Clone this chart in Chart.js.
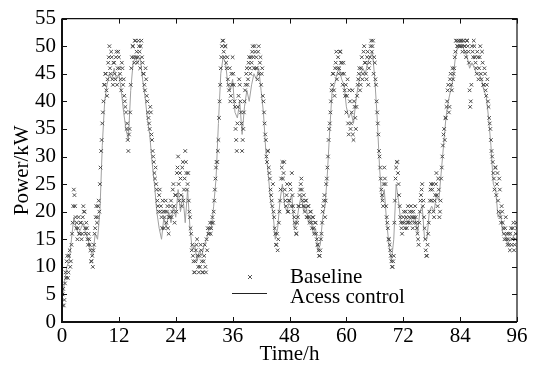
<!DOCTYPE html>
<html>
<head>
<meta charset="utf-8">
<script src="https://cdn.jsdelivr.net/npm/chart.js@4/dist/chart.umd.min.js"></script>
<style>
  html, body { margin: 0; padding: 0; background: #fff; }
  #wrap { width: 540px; height: 367px; }
</style>
</head>
<body>
<div id="wrap"><canvas id="myChart" width="540" height="367"></canvas></div>
<script>
// axis ticks
var hourTicks = [0, 12, 24, 36, 48, 60, 72, 84, 96];
var powerTicks = [0, 5, 10, 15, 20, 25, 30, 35, 40, 45, 50, 55];

// Baseline, samples on the quarter hour (kW), day by day
var baselineDay1 = [
  3, 6, 4, 9,  11, 8, 12, 10,  14, 18, 24, 21,  17, 15, 19, 16,
  18, 16, 21, 20,  16, 17, 14, 15,  13, 11, 10, 14,  17, 21, 19, 22,
  25, 31, 36, 40,  43, 45, 41, 47,  50, 45, 48, 43,  47, 44, 49, 46,
  48, 45, 42, 46,  44, 40, 38, 36,  31, 35, 43, 48,  50, 47, 51, 49,
  48, 50, 46, 51,  47, 45, 42, 44,  40, 37, 35, 38,  33, 30, 27, 28,
  24, 21, 23, 20,  19, 22, 17, 20,  18, 21, 16, 19,  22, 20, 25, 18
];
var baselineDay2 = [
  23, 27, 30, 22,  26, 21, 29, 24,  31, 27, 25, 22,  19, 16, 14, 11,
  9, 13, 15, 10,  12, 14, 11, 9,  12, 10, 15, 17,  16, 18, 17, 19,
  20, 24, 28, 29,  33, 40, 46, 50,  51, 48, 50, 46,  44, 42, 40, 45,
  48, 43, 39, 33,  36, 41, 43, 38,  31, 35, 40, 43,  46, 44, 48, 45,
  47, 50, 46, 49,  48, 44, 50, 47,  43, 46, 40, 36,  33, 29, 31, 27,
  24, 22, 25, 19,  16, 14, 13, 18,  22, 26, 29, 27,  24, 21, 25, 20
];
var baselineDay3 = [
  22, 24, 27, 21,  19, 17, 16, 19,  21, 24, 26, 22,  23, 20, 22, 19,
  21, 18, 20, 17,  19, 16, 18, 15,  14, 12, 13, 16,  20, 22, 19, 25,
  28, 33, 36, 40,  43, 45, 41, 47,  44, 48, 46, 49,  47, 43, 45, 41,
  38, 44, 34, 40,  36, 42, 33, 39,  35, 41, 44, 46,  43, 48, 45, 50,
  47, 44, 49, 46,  48, 51, 50, 45,  47, 43, 38, 34,  30, 26, 23, 21,
  28, 25, 19, 17,  15, 13, 11, 10,  12, 22, 28, 29,  25, 21, 18, 16
];
var baselineDay4 = [
  19, 18, 20, 17,  21, 19, 18, 20,  17, 19, 21, 18,  16, 14, 20, 23,
  25, 22, 17, 13,  12, 16, 20, 24,  22, 25, 19, 23,  27, 21, 24, 20,
  26, 30, 34, 33,  37, 40, 43, 39,  45, 42, 44, 46,  49, 51, 50, 51,
  50, 51, 49, 51,  50, 48, 51, 49,  42, 40, 50, 48,  50, 47, 45, 48,
  46, 50, 44, 47,  43, 45, 41, 44,  39, 36, 33, 30,  27, 24, 28, 25,
  22, 26, 19, 21,  18, 16, 17, 15,  14, 16, 13, 17,  15, 18, 14, 16,  17
];

// Baseline, the samples in between (quarter hour + 7.5 min)
var baselineMidDay1 = [
  5, 3, 7, 8,  12, 9, 13, 11,  16, 21, 23, 19,  18, 17, 16, 18,
  15, 19, 20, 17,  18, 15, 16, 14,  11, 12, 13, 16,  19, 18, 21, 20,
  28, 33, 38, 43,  45, 42, 44, 48,  46, 49, 44, 47,  45, 48, 43, 49,
  46, 44, 47, 43,  41, 39, 35, 33,  34, 38, 46, 50,  48, 51, 48, 47,
  51, 49, 50, 48,  45, 43, 46, 41,  38, 36, 39, 34,  31, 29, 26, 25,
  22, 20, 24, 21,  17, 20, 19, 22,  20, 17, 19, 21,  19, 24, 21, 23
];
var baselineMidDay2 = [
  20, 28, 25, 27,  23, 28, 22, 26,  29, 24, 27, 20,  17, 13, 12, 9,
  11, 14, 12, 9,  10, 13, 9, 11,  14, 9, 13, 16,  17, 16, 18, 18,
  22, 26, 29, 31,  37, 43, 48, 51,  49, 50, 47, 48,  43, 46, 41, 43,
  45, 40, 35, 31,  39, 44, 40, 36,  33, 38, 42, 45,  43, 47, 46, 48,
  49, 48, 50, 46,  46, 49, 45, 48,  45, 41, 38, 34,  30, 31, 28, 26,
  23, 21, 20, 17,  14, 16, 15, 20,  24, 28, 26, 29,  22, 23, 20, 22
];
var baselineMidDay3 = [
  25, 21, 23, 20,  18, 16, 18, 21,  23, 25, 24, 21,  21, 22, 19, 21,
  19, 20, 18, 19,  17, 18, 16, 14,  13, 12, 15, 18,  21, 23, 22, 26,
  30, 35, 38, 42,  45, 42, 46, 49,  46, 45, 49, 47,  45, 47, 42, 43,
  41, 36, 42, 35,  38, 34, 40, 37,  39, 43, 45, 42,  46, 44, 49, 47,
  45, 48, 43, 47,  50, 49, 51, 48,  44, 40, 36, 31,  28, 24, 22, 25,
  26, 21, 18, 15,  14, 12, 10, 11,  18, 26, 29, 27,  23, 19, 17, 18
];
var baselineMidDay4 = [
  20, 17, 19, 18,  18, 20, 21, 19,  20, 18, 19, 17,  15, 18, 22, 24,
  21, 19, 15, 12,  14, 18, 22, 25,  24, 20, 22, 25,  23, 26, 19, 22,
  28, 32, 35, 37,  39, 42, 38, 44,  43, 46, 45, 48,  51, 50, 51, 50,
  51, 50, 51, 50,  49, 51, 50, 47,  39, 43, 49, 51,  48, 46, 49, 44,
  48, 45, 49, 43,  46, 42, 43, 40,  37, 35, 31, 29,  26, 28, 23, 27,
  20, 24, 18, 20,  17, 15, 19, 16,  15, 14, 16, 14,  17, 13, 15, 18
];

// Acess control, one value every 30 min (kW)
var accessDay1 = [
  4, 7, 10, 11, 15, 19, 17, 16, 17, 18, 16, 15, 13, 12, 16, 15,
  20, 32, 40, 43, 45, 44, 46, 44, 45, 42, 38, 35, 33, 42, 47, 48,
  47, 48, 44, 41, 37, 34, 29, 25, 20, 17, 15, 19, 17, 20, 18, 21
];
var accessDay2 = [
  19, 24, 20, 23, 18, 24, 17, 13, 14, 11, 13, 12, 14, 15, 17, 17,
  21, 26, 36, 45, 48, 47, 43, 42, 44, 38, 37, 40, 34, 39, 42, 40,
  43, 45, 44, 46, 42, 38, 31, 27, 22, 20, 15, 17, 22, 25, 21, 20
];
var accessDay3 = [
  22, 23, 17, 18, 21, 23, 20, 21, 18, 19, 16, 17, 13, 14, 19, 21,
  27, 35, 42, 43, 45, 46, 44, 43, 39, 37, 38, 36, 40, 43, 45, 46,
  45, 47, 48, 49, 44, 37, 28, 22, 24, 18, 14, 11, 15, 25, 22, 18
];
var accessDay4 = [
  18, 19, 18, 19, 18, 19, 16, 20, 21, 15, 15, 20, 21, 20, 23, 22,
  27, 32, 37, 40, 42, 44, 48, 50, 50, 50, 49, 48, 46, 47, 46, 45,
  45, 44, 42, 41, 37, 32, 25, 24, 19, 20, 16, 16, 14, 15, 15, 16, 16
];

var baselineValues = baselineDay1.concat(baselineDay2, baselineDay3, baselineDay4);
var baselineMidValues = baselineMidDay1.concat(baselineMidDay2, baselineMidDay3, baselineMidDay4);
var accessValues = accessDay1.concat(accessDay2, accessDay3, accessDay4);

var baselinePoints = baselineValues.map(function(v, i){ return {x: i * 0.25, y: v}; })
    .concat(baselineMidValues.map(function(v, i){ return {x: i * 0.25 + 0.125, y: v}; }));
var accessPoints = accessValues.map(function(v, i){ return {x: i * 0.5, y: v}; });

var serif = "'Liberation Serif', 'Times New Roman', serif";

// frame, inward ticks and legend are drawn by hand
var framePlugin = {
    id: 'frame',
    afterDraw: function(chart) {
        var ctx = chart.ctx;
        var a = chart.chartArea;
        var xs = chart.scales.x, ys = chart.scales.y;
        ctx.save();
        ctx.strokeStyle = '#111';
        ctx.lineWidth = 1.2;
        ctx.beginPath();
        ctx.moveTo(a.left, a.top); ctx.lineTo(a.right, a.top); ctx.lineTo(a.right, a.bottom);
        ctx.stroke();
        ctx.lineWidth = 2;
        ctx.beginPath();
        ctx.moveTo(a.left, a.top); ctx.lineTo(a.left, a.bottom); ctx.lineTo(a.right, a.bottom);
        ctx.stroke();
        ctx.lineWidth = 1;
        ctx.beginPath();
        hourTicks.forEach(function(h){
            var px = Math.round(xs.getPixelForValue(h)) + 0.5;
            ctx.moveTo(px, a.bottom); ctx.lineTo(px, a.bottom - 5);
            ctx.moveTo(px, a.top); ctx.lineTo(px, a.top + 5);
        });
        powerTicks.forEach(function(p){
            var py = Math.round(ys.getPixelForValue(p)) + 0.5;
            ctx.moveTo(a.left, py); ctx.lineTo(a.left + 5, py);
            ctx.moveTo(a.right, py); ctx.lineTo(a.right - 5, py);
        });
        ctx.stroke();

        // legend
        ctx.strokeStyle = '#555';
        ctx.lineWidth = 1;
        ctx.beginPath();
        ctx.moveTo(248, 275); ctx.lineTo(252, 279);
        ctx.moveTo(252, 275); ctx.lineTo(248, 279);
        ctx.stroke();
        ctx.strokeStyle = '#222';
        ctx.beginPath();
        ctx.moveTo(232, 293.5); ctx.lineTo(267, 293.5);
        ctx.stroke();
        ctx.fillStyle = '#000';
        ctx.font = '21px ' + serif;
        ctx.textBaseline = 'middle';
        ctx.fillText('Baseline', 290, 277);
        ctx.fillText('Acess control', 290, 297);
        ctx.restore();
    }
};

var ctx = document.getElementById('myChart').getContext('2d');
var chart = new Chart(ctx, {
    type: 'scatter',
    data: {
        datasets: [{
            label: 'Baseline',
            data: baselinePoints,
            pointStyle: 'crossRot',
            pointRadius: 2.5,
            pointBorderColor: '#4a4a4a',
            pointBorderWidth: 1,
            showLine: false,
            order: 0
        },
        {
            label: 'Acess control',
            data: accessPoints,
            showLine: true,
            borderColor: '#a0a0a0',
            borderWidth: 1,
            pointRadius: 0,
            tension: 0,
            order: 1
        }]
    },
    options: {
        responsive: false,
        animation: false,
        layout: { padding: { left: 0, right: 23, top: 18, bottom: 0 } },
        plugins: {
            legend: { display: false },
            tooltip: { enabled: false }
        },
        scales: {
            x: {
                type: 'linear',
                min: 0, max: 96,
                afterBuildTicks: function(s){ s.ticks = hourTicks.map(function(v){ return {value: v}; }); },
                afterFit: function(s){ s.height = 45; },
                grid: { display: false, drawTicks: false },
                border: { display: false },
                ticks: { color: '#000', font: { family: serif, size: 21 }, padding: 2, maxRotation: 0, autoSkip: false },
                title: { display: true, text: 'Time/h', color: '#000', font: { family: serif, size: 21 }, padding: { top: 0, bottom: 0 } }
            },
            y: {
                min: 0, max: 55,
                afterBuildTicks: function(s){ s.ticks = powerTicks.map(function(v){ return {value: v}; }); },
                afterFit: function(s){ s.width = 62; },
                grid: { display: false, drawTicks: false },
                border: { display: false },
                ticks: { color: '#000', font: { family: serif, size: 21 }, padding: 6, autoSkip: false },
                title: { display: true, text: 'Power/kW', color: '#000', font: { family: serif, size: 21 }, padding: { top: 10, bottom: 0 } }
            }
        }
    },
    plugins: [framePlugin]
});
</script>
</body>
</html>
